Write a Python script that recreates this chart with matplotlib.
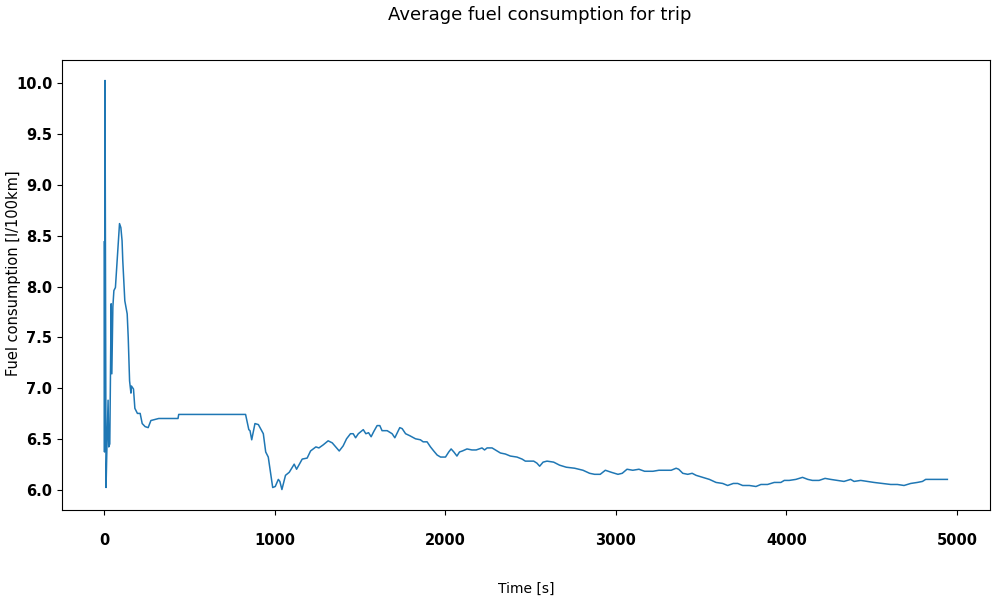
import numpy as np
import matplotlib
matplotlib.use("Agg")
import matplotlib.pyplot as plt

# trip time [s] and running average consumption [l/100km]
time_s = [0, 2, 5, 11, 16, 23, 27, 33, 41, 45, 51, 57, 66, 78, 90, 98, 105, 109,
          121, 135, 141, 149, 157, 160, 172, 180, 195, 211, 223, 240, 258, 274,
          320, 433, 437, 829, 848, 855, 865, 884, 904, 933, 947, 962, 988, 1003,
          1021, 1030, 1042, 1063, 1085, 1114, 1128, 1161, 1190, 1210, 1241, 1259,
          1284, 1313, 1337, 1378, 1401, 1421, 1444, 1460, 1474, 1490, 1519, 1534,
          1550, 1565, 1580, 1600, 1616, 1629, 1659, 1688, 1704, 1733, 1747, 1767,
          1792, 1825, 1854, 1870, 1893, 1913, 1932, 1952, 1972, 2001, 2020, 2034,
          2050, 2068, 2083, 2100, 2127, 2156, 2181, 2215, 2230, 2245, 2274, 2294,
          2323, 2352, 2381, 2420, 2450, 2469, 2518, 2537, 2553, 2573, 2596, 2635,
          2670, 2709, 2758, 2807, 2846, 2875, 2908, 2938, 2973, 3012, 3037, 3065,
          3099, 3135, 3168, 3217, 3252, 3285, 3324, 3353, 3368, 3392, 3421, 3447,
          3470, 3509, 3548, 3587, 3626, 3655, 3688, 3714, 3743, 3782, 3821, 3850,
          3889, 3928, 3967, 3987, 4016, 4055, 4094, 4125, 4152, 4191, 4226, 4259,
          4298, 4337, 4376, 4396, 4435, 4474, 4513, 4562, 4611, 4650, 4689, 4728,
          4767, 4797, 4816, 4875, 4943]
fuel = [8.44, 6.37, 10.03, 6.02, 6.40, 6.88, 6.42, 6.45, 7.83, 7.14, 7.80, 7.96,
        7.99, 8.30, 8.62, 8.58, 8.45, 8.26, 7.86, 7.73, 7.50, 7.07, 6.95, 7.02,
        6.99, 6.80, 6.75, 6.75, 6.65, 6.62, 6.61, 6.68, 6.70, 6.70, 6.74, 6.74,
        6.59, 6.58, 6.49, 6.65, 6.64, 6.55, 6.37, 6.32, 6.02, 6.03, 6.10, 6.08,
        6.00, 6.14, 6.17, 6.25, 6.20, 6.30, 6.31, 6.38, 6.42, 6.41, 6.44, 6.48,
        6.46, 6.38, 6.43, 6.50, 6.55, 6.55, 6.51, 6.55, 6.59, 6.55, 6.56, 6.52,
        6.57, 6.63, 6.63, 6.58, 6.58, 6.55, 6.51, 6.61, 6.60, 6.55, 6.53, 6.50,
        6.49, 6.47, 6.47, 6.42, 6.38, 6.34, 6.32, 6.32, 6.37, 6.40, 6.37, 6.33,
        6.37, 6.38, 6.40, 6.39, 6.39, 6.41, 6.39, 6.41, 6.41, 6.39, 6.36, 6.35,
        6.33, 6.32, 6.30, 6.28, 6.28, 6.26, 6.23, 6.27, 6.28, 6.27, 6.24, 6.22,
        6.21, 6.19, 6.16, 6.15, 6.15, 6.19, 6.17, 6.15, 6.16, 6.20, 6.19, 6.20,
        6.18, 6.18, 6.19, 6.19, 6.19, 6.21, 6.20, 6.16, 6.15, 6.16, 6.14, 6.12,
        6.10, 6.07, 6.06, 6.04, 6.06, 6.06, 6.04, 6.04, 6.03, 6.05, 6.05, 6.07,
        6.07, 6.09, 6.09, 6.10, 6.12, 6.10, 6.09, 6.09, 6.11, 6.10, 6.09, 6.08,
        6.10, 6.08, 6.09, 6.08, 6.07, 6.06, 6.05, 6.05, 6.04, 6.06, 6.07, 6.08,
        6.10, 6.10, 6.10]

fig = plt.figure(figsize=(9.92, 6), dpi=100)
ax = fig.add_axes([0.0625, 0.15, 0.935, 0.75])
ax.plot(time_s, fuel, color="#1f77b4", linewidth=1.1)

ax.set_yticks(np.arange(6.0, 10.01, 0.5))
ax.set_xticks([0, 1000, 2000, 3000, 4000, 5000])
for lab in ax.get_xticklabels() + ax.get_yticklabels():
    lab.set_fontweight("bold")
    lab.set_fontsize(10.5)
ax.tick_params(axis="x", pad=13)

fig.suptitle("Average fuel consumption for trip", fontsize=13, x=0.544, y=0.99)
fig.text(0.53, 0.018, "Time [s]", ha="center", va="center", fontsize=10)
fig.text(0.014, 0.545, "Fuel consumption [l/100km]", ha="center", va="center",
         rotation=90, fontsize=10.5)

fig.savefig("out.png", dpi=100)
